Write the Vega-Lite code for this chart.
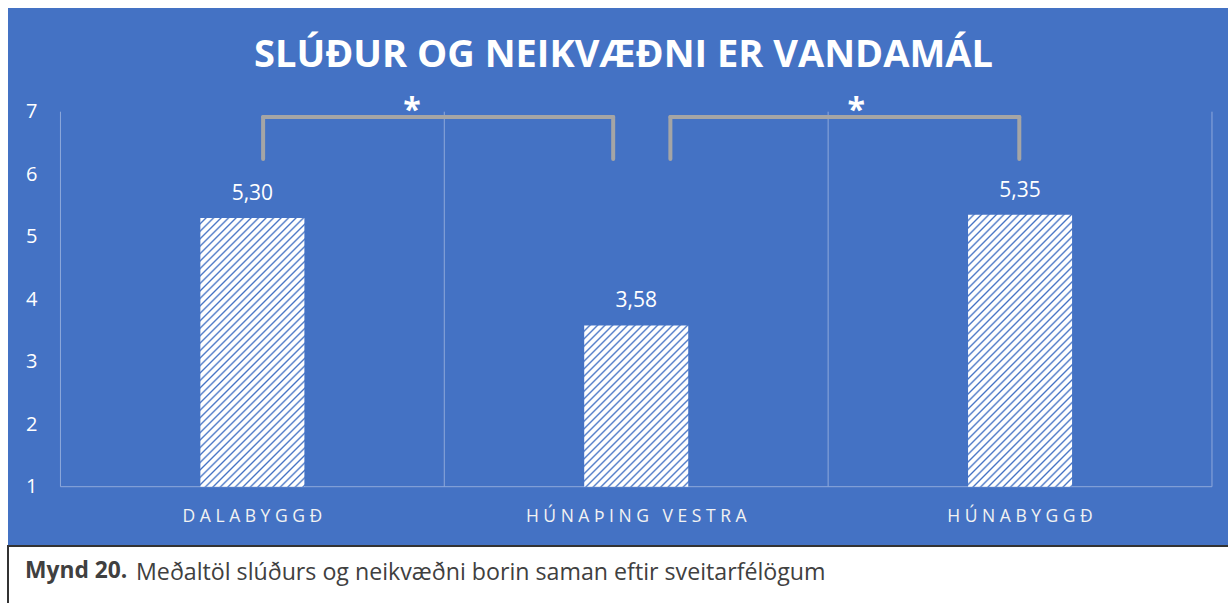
{
"$schema": "https://vega.github.io/schema/vega-lite/v6.json",
"background": "#ffffff",
"padding": {"left": 7, "top": 8, "right": 0, "bottom": 0},
"spacing": 0,
"config": {
  "locale": {"number": {"decimal": ",", "thousands": ".", "grouping": [3], "currency": ["", ""]}},
  "view": {"stroke": null},
  "font": "Open Sans"
},
"title": {"text": "Meðaltöl slúðurs og neikvæðni borin saman eftir sveitarfélögum", "orient": "bottom", "anchor": "start", "dx": 129, "offset": -27, "baseline": "alphabetic", "fontSize": 23.2, "fontWeight": "normal", "color": "#404040", "font": "Open Sans"},
"vconcat": [
{
  "width": 1221, "height": 537,
  "view": {"fill": "#4472c4", "stroke": null},
  "title": {"text": "SLÚÐUR OG NEIKVÆÐNI ER VANDAMÁL", "anchor": "middle", "dx": 5, "offset": -97, "baseline": "alphabetic", "fontSize": 38, "fontWeight": "bold", "color": "#ffffff", "font": "Open Sans"},
  "data": {"values": [{"region": "Dalabyggð", "value": 5.30}, {"region": "Húnaþing vestra", "value": 3.58}, {"region": "Húnabyggð", "value": 5.35}]},
  "layer": [
    {
      "mark": {"type": "rule", "color": "#8ea9db", "strokeWidth": 1},
      "encoding": {
        "x": {"field": "region", "type": "nominal", "bandPosition": 0,
              "scale": {"type": "band", "domain": ["Dalabyggð", "Húnaþing vestra", "Húnabyggð"], "paddingInner": 0, "paddingOuter": 0.0905, "align": 0.755},
              "axis": {"orient": "bottom", "offset": -24, "domain": false, "ticks": false, "tickSize": 0, "labelPadding": 0, "labelFontSize": 17.5, "labelFont": "Open Sans", "labelColor": "#f2f2f2", "labelBaseline": "alphabetic", "labelAngle": 0, "labelLimit": 0, "title": null, "grid": false, "labelExpr": "join(split(upper(datum.label), ''), '\u00a0')"}},
        "y": {"datum": 1, "type": "quantitative",
              "scale": {"domain": [0.067, 8.659], "nice": false, "zero": false},
              "axis": {"orient": "left", "offset": -29, "domain": false, "ticks": false, "tickSize": 0, "labelPadding": 0, "labelFontSize": 20, "labelFont": "Open Sans", "labelColor": "#ffffff", "grid": false, "title": null, "values": [1, 2, 3, 4, 5, 6, 7], "format": "d", "labelAlign": "right", "labelBaseline": "middle", "labelFlush": false}},
        "y2": {"datum": 7}
      }
    },
    {
      "data": {"values": [{}]},
      "mark": {"type": "rule", "color": "#8ea9db", "strokeWidth": 1},
      "encoding": {
        "x": {"datum": "Húnabyggð", "type": "nominal", "bandPosition": 1},
        "y": {"datum": 1, "type": "quantitative"},
        "y2": {"datum": 7}
      }
    },
    {
      "data": {"values": [{}]},
      "mark": {"type": "rule", "color": "#8ea9db", "strokeWidth": 1},
      "encoding": {
        "x": {"datum": "Dalabyggð", "type": "nominal", "bandPosition": 0},
        "x2": {"datum": "Húnabyggð", "bandPosition": 1},
        "y": {"datum": 1, "type": "quantitative"}
      }
    },
    {
      "mark": {"type": "bar", "width": {"band": 0.271}, "stroke": null},
      "encoding": {
        "x": {"field": "region", "type": "nominal"},
        "y": {"field": "value", "type": "quantitative"},
        "y2": {"datum": 1},
        "fill": {
          "condition": {"test": "datum.region === 'Húnaþing vestra'", "value": {"gradient": "linear", "x1": 0, "y1": 0, "x2": 1.0593, "y2": 1.6424, "stops": [
{"offset":0,"color":"#fff"},{"offset":0.01,"color":"#fff"},{"offset":0.015,"color":"#4472c4"},
{"offset":0.02,"color":"#fff"},{"offset":0.03,"color":"#fff"},{"offset":0.035,"color":"#4472c4"},
{"offset":0.04,"color":"#fff"},{"offset":0.05,"color":"#fff"},{"offset":0.055,"color":"#4472c4"},
{"offset":0.06,"color":"#fff"},{"offset":0.07,"color":"#fff"},{"offset":0.075,"color":"#4472c4"},
{"offset":0.08,"color":"#fff"},{"offset":0.09,"color":"#fff"},{"offset":0.095,"color":"#4472c4"},
{"offset":0.1,"color":"#fff"},{"offset":0.11,"color":"#fff"},{"offset":0.115,"color":"#4472c4"},
{"offset":0.12,"color":"#fff"},{"offset":0.13,"color":"#fff"},{"offset":0.135,"color":"#4472c4"},
{"offset":0.14,"color":"#fff"},{"offset":0.15,"color":"#fff"},{"offset":0.155,"color":"#4472c4"},
{"offset":0.16,"color":"#fff"},{"offset":0.17,"color":"#fff"},{"offset":0.175,"color":"#4472c4"},
{"offset":0.18,"color":"#fff"},{"offset":0.19,"color":"#fff"},{"offset":0.195,"color":"#4472c4"},
{"offset":0.2,"color":"#fff"},{"offset":0.21,"color":"#fff"},{"offset":0.215,"color":"#4472c4"},
{"offset":0.22,"color":"#fff"},{"offset":0.23,"color":"#fff"},{"offset":0.235,"color":"#4472c4"},
{"offset":0.24,"color":"#fff"},{"offset":0.25,"color":"#fff"},{"offset":0.255,"color":"#4472c4"},
{"offset":0.26,"color":"#fff"},{"offset":0.27,"color":"#fff"},{"offset":0.275,"color":"#4472c4"},
{"offset":0.28,"color":"#fff"},{"offset":0.29,"color":"#fff"},{"offset":0.295,"color":"#4472c4"},
{"offset":0.3,"color":"#fff"},{"offset":0.31,"color":"#fff"},{"offset":0.315,"color":"#4472c4"},
{"offset":0.32,"color":"#fff"},{"offset":0.33,"color":"#fff"},{"offset":0.335,"color":"#4472c4"},
{"offset":0.34,"color":"#fff"},{"offset":0.35,"color":"#fff"},{"offset":0.355,"color":"#4472c4"},
{"offset":0.36,"color":"#fff"},{"offset":0.37,"color":"#fff"},{"offset":0.375,"color":"#4472c4"},
{"offset":0.38,"color":"#fff"},{"offset":0.39,"color":"#fff"},{"offset":0.395,"color":"#4472c4"},
{"offset":0.4,"color":"#fff"},{"offset":0.41,"color":"#fff"},{"offset":0.415,"color":"#4472c4"},
{"offset":0.42,"color":"#fff"},{"offset":0.43,"color":"#fff"},{"offset":0.435,"color":"#4472c4"},
{"offset":0.44,"color":"#fff"},{"offset":0.45,"color":"#fff"},{"offset":0.455,"color":"#4472c4"},
{"offset":0.46,"color":"#fff"},{"offset":0.47,"color":"#fff"},{"offset":0.475,"color":"#4472c4"},
{"offset":0.48,"color":"#fff"},{"offset":0.49,"color":"#fff"},{"offset":0.495,"color":"#4472c4"},
{"offset":0.5,"color":"#fff"},{"offset":0.51,"color":"#fff"},{"offset":0.515,"color":"#4472c4"},
{"offset":0.52,"color":"#fff"},{"offset":0.53,"color":"#fff"},{"offset":0.535,"color":"#4472c4"},
{"offset":0.54,"color":"#fff"},{"offset":0.55,"color":"#fff"},{"offset":0.555,"color":"#4472c4"},
{"offset":0.56,"color":"#fff"},{"offset":0.57,"color":"#fff"},{"offset":0.575,"color":"#4472c4"},
{"offset":0.58,"color":"#fff"},{"offset":0.59,"color":"#fff"},{"offset":0.595,"color":"#4472c4"},
{"offset":0.6,"color":"#fff"},{"offset":0.61,"color":"#fff"},{"offset":0.615,"color":"#4472c4"},
{"offset":0.62,"color":"#fff"},{"offset":0.63,"color":"#fff"},{"offset":0.635,"color":"#4472c4"},
{"offset":0.64,"color":"#fff"},{"offset":0.65,"color":"#fff"},{"offset":0.655,"color":"#4472c4"},
{"offset":0.66,"color":"#fff"},{"offset":0.67,"color":"#fff"},{"offset":0.675,"color":"#4472c4"},
{"offset":0.68,"color":"#fff"},{"offset":0.69,"color":"#fff"},{"offset":0.695,"color":"#4472c4"},
{"offset":0.7,"color":"#fff"},{"offset":0.71,"color":"#fff"},{"offset":0.715,"color":"#4472c4"},
{"offset":0.72,"color":"#fff"},{"offset":0.73,"color":"#fff"},{"offset":0.735,"color":"#4472c4"},
{"offset":0.74,"color":"#fff"},{"offset":0.75,"color":"#fff"},{"offset":0.755,"color":"#4472c4"},
{"offset":0.76,"color":"#fff"},{"offset":0.77,"color":"#fff"},{"offset":0.775,"color":"#4472c4"},
{"offset":0.78,"color":"#fff"},{"offset":0.79,"color":"#fff"},{"offset":0.795,"color":"#4472c4"},
{"offset":0.8,"color":"#fff"},{"offset":0.81,"color":"#fff"},{"offset":0.815,"color":"#4472c4"},
{"offset":0.82,"color":"#fff"},{"offset":0.83,"color":"#fff"},{"offset":0.835,"color":"#4472c4"},
{"offset":0.84,"color":"#fff"},{"offset":0.85,"color":"#fff"},{"offset":0.855,"color":"#4472c4"},
{"offset":0.86,"color":"#fff"},{"offset":0.87,"color":"#fff"},{"offset":0.875,"color":"#4472c4"},
{"offset":0.88,"color":"#fff"},{"offset":0.89,"color":"#fff"},{"offset":0.895,"color":"#4472c4"},
{"offset":0.9,"color":"#fff"},{"offset":0.91,"color":"#fff"},{"offset":0.915,"color":"#4472c4"},
{"offset":0.92,"color":"#fff"},{"offset":0.93,"color":"#fff"},{"offset":0.935,"color":"#4472c4"},
{"offset":0.94,"color":"#fff"},{"offset":0.95,"color":"#fff"},{"offset":0.955,"color":"#4472c4"},
{"offset":0.96,"color":"#fff"},{"offset":0.97,"color":"#fff"},{"offset":0.975,"color":"#4472c4"},
{"offset":0.98,"color":"#fff"},{"offset":0.99,"color":"#fff"},{"offset":0.995,"color":"#4472c4"},
{"offset":1,"color":"#fff"}]}},
          "value": {"gradient": "linear", "x1": 0, "y1": 0, "x2": 0.465, "y2": 1.2085, "stops": [
{"offset":0,"color":"#fff"},{"offset":0.01,"color":"#fff"},{"offset":0.015,"color":"#4472c4"},
{"offset":0.02,"color":"#fff"},{"offset":0.03,"color":"#fff"},{"offset":0.035,"color":"#4472c4"},
{"offset":0.04,"color":"#fff"},{"offset":0.05,"color":"#fff"},{"offset":0.055,"color":"#4472c4"},
{"offset":0.06,"color":"#fff"},{"offset":0.07,"color":"#fff"},{"offset":0.075,"color":"#4472c4"},
{"offset":0.08,"color":"#fff"},{"offset":0.09,"color":"#fff"},{"offset":0.095,"color":"#4472c4"},
{"offset":0.1,"color":"#fff"},{"offset":0.11,"color":"#fff"},{"offset":0.115,"color":"#4472c4"},
{"offset":0.12,"color":"#fff"},{"offset":0.13,"color":"#fff"},{"offset":0.135,"color":"#4472c4"},
{"offset":0.14,"color":"#fff"},{"offset":0.15,"color":"#fff"},{"offset":0.155,"color":"#4472c4"},
{"offset":0.16,"color":"#fff"},{"offset":0.17,"color":"#fff"},{"offset":0.175,"color":"#4472c4"},
{"offset":0.18,"color":"#fff"},{"offset":0.19,"color":"#fff"},{"offset":0.195,"color":"#4472c4"},
{"offset":0.2,"color":"#fff"},{"offset":0.21,"color":"#fff"},{"offset":0.215,"color":"#4472c4"},
{"offset":0.22,"color":"#fff"},{"offset":0.23,"color":"#fff"},{"offset":0.235,"color":"#4472c4"},
{"offset":0.24,"color":"#fff"},{"offset":0.25,"color":"#fff"},{"offset":0.255,"color":"#4472c4"},
{"offset":0.26,"color":"#fff"},{"offset":0.27,"color":"#fff"},{"offset":0.275,"color":"#4472c4"},
{"offset":0.28,"color":"#fff"},{"offset":0.29,"color":"#fff"},{"offset":0.295,"color":"#4472c4"},
{"offset":0.3,"color":"#fff"},{"offset":0.31,"color":"#fff"},{"offset":0.315,"color":"#4472c4"},
{"offset":0.32,"color":"#fff"},{"offset":0.33,"color":"#fff"},{"offset":0.335,"color":"#4472c4"},
{"offset":0.34,"color":"#fff"},{"offset":0.35,"color":"#fff"},{"offset":0.355,"color":"#4472c4"},
{"offset":0.36,"color":"#fff"},{"offset":0.37,"color":"#fff"},{"offset":0.375,"color":"#4472c4"},
{"offset":0.38,"color":"#fff"},{"offset":0.39,"color":"#fff"},{"offset":0.395,"color":"#4472c4"},
{"offset":0.4,"color":"#fff"},{"offset":0.41,"color":"#fff"},{"offset":0.415,"color":"#4472c4"},
{"offset":0.42,"color":"#fff"},{"offset":0.43,"color":"#fff"},{"offset":0.435,"color":"#4472c4"},
{"offset":0.44,"color":"#fff"},{"offset":0.45,"color":"#fff"},{"offset":0.455,"color":"#4472c4"},
{"offset":0.46,"color":"#fff"},{"offset":0.47,"color":"#fff"},{"offset":0.475,"color":"#4472c4"},
{"offset":0.48,"color":"#fff"},{"offset":0.49,"color":"#fff"},{"offset":0.495,"color":"#4472c4"},
{"offset":0.5,"color":"#fff"},{"offset":0.51,"color":"#fff"},{"offset":0.515,"color":"#4472c4"},
{"offset":0.52,"color":"#fff"},{"offset":0.53,"color":"#fff"},{"offset":0.535,"color":"#4472c4"},
{"offset":0.54,"color":"#fff"},{"offset":0.55,"color":"#fff"},{"offset":0.555,"color":"#4472c4"},
{"offset":0.56,"color":"#fff"},{"offset":0.57,"color":"#fff"},{"offset":0.575,"color":"#4472c4"},
{"offset":0.58,"color":"#fff"},{"offset":0.59,"color":"#fff"},{"offset":0.595,"color":"#4472c4"},
{"offset":0.6,"color":"#fff"},{"offset":0.61,"color":"#fff"},{"offset":0.615,"color":"#4472c4"},
{"offset":0.62,"color":"#fff"},{"offset":0.63,"color":"#fff"},{"offset":0.635,"color":"#4472c4"},
{"offset":0.64,"color":"#fff"},{"offset":0.65,"color":"#fff"},{"offset":0.655,"color":"#4472c4"},
{"offset":0.66,"color":"#fff"},{"offset":0.67,"color":"#fff"},{"offset":0.675,"color":"#4472c4"},
{"offset":0.68,"color":"#fff"},{"offset":0.69,"color":"#fff"},{"offset":0.695,"color":"#4472c4"},
{"offset":0.7,"color":"#fff"},{"offset":0.71,"color":"#fff"},{"offset":0.715,"color":"#4472c4"},
{"offset":0.72,"color":"#fff"},{"offset":0.73,"color":"#fff"},{"offset":0.735,"color":"#4472c4"},
{"offset":0.74,"color":"#fff"},{"offset":0.75,"color":"#fff"},{"offset":0.755,"color":"#4472c4"},
{"offset":0.76,"color":"#fff"},{"offset":0.77,"color":"#fff"},{"offset":0.775,"color":"#4472c4"},
{"offset":0.78,"color":"#fff"},{"offset":0.79,"color":"#fff"},{"offset":0.795,"color":"#4472c4"},
{"offset":0.8,"color":"#fff"},{"offset":0.81,"color":"#fff"},{"offset":0.815,"color":"#4472c4"},
{"offset":0.82,"color":"#fff"},{"offset":0.83,"color":"#fff"},{"offset":0.835,"color":"#4472c4"},
{"offset":0.84,"color":"#fff"},{"offset":0.85,"color":"#fff"},{"offset":0.855,"color":"#4472c4"},
{"offset":0.86,"color":"#fff"},{"offset":0.87,"color":"#fff"},{"offset":0.875,"color":"#4472c4"},
{"offset":0.88,"color":"#fff"},{"offset":0.89,"color":"#fff"},{"offset":0.895,"color":"#4472c4"},
{"offset":0.9,"color":"#fff"},{"offset":0.91,"color":"#fff"},{"offset":0.915,"color":"#4472c4"},
{"offset":0.92,"color":"#fff"},{"offset":0.93,"color":"#fff"},{"offset":0.935,"color":"#4472c4"},
{"offset":0.94,"color":"#fff"},{"offset":0.95,"color":"#fff"},{"offset":0.955,"color":"#4472c4"},
{"offset":0.96,"color":"#fff"},{"offset":0.97,"color":"#fff"},{"offset":0.975,"color":"#4472c4"},
{"offset":0.98,"color":"#fff"},{"offset":0.99,"color":"#fff"},{"offset":0.995,"color":"#4472c4"},
{"offset":1,"color":"#fff"}]}
        }
      }
    },
    {
      "mark": {"type": "text", "dy": -18, "baseline": "alphabetic", "fontSize": 21, "color": "#ffffff", "font": "Open Sans"},
      "encoding": {
        "x": {"field": "region", "type": "nominal"},
        "y": {"field": "value", "type": "quantitative"},
        "text": {"field": "value", "type": "quantitative", "format": ".2f"}
      }
    },
    {
      "data": {"values": [{}]},
      "mark": {"type": "rule", "color": "#a5a5a5", "strokeWidth": 4, "strokeCap": "round"},
      "encoding": {"x": {"datum": "Dalabyggð", "type": "nominal", "bandPosition": 0.528}, "y": {"datum": 6.915, "type": "quantitative"}, "y2": {"datum": 6.243}}
    },
    {
      "data": {"values": [{}]},
      "mark": {"type": "rule", "color": "#a5a5a5", "strokeWidth": 4, "strokeCap": "round"},
      "encoding": {"x": {"datum": "Húnaþing vestra", "type": "nominal", "bandPosition": 0.44}, "y": {"datum": 6.915, "type": "quantitative"}, "y2": {"datum": 6.243}}
    },
    {
      "data": {"values": [{}]},
      "mark": {"type": "rule", "color": "#a5a5a5", "strokeWidth": 4, "strokeCap": "round"},
      "encoding": {"x": {"datum": "Dalabyggð", "type": "nominal", "bandPosition": 0.528}, "x2": {"datum": "Húnaþing vestra", "bandPosition": 0.44}, "y": {"datum": 6.915, "type": "quantitative"}}
    },
    {
      "data": {"values": [{}]},
      "mark": {"type": "rule", "color": "#a5a5a5", "strokeWidth": 4, "strokeCap": "round"},
      "encoding": {"x": {"datum": "Húnaþing vestra", "type": "nominal", "bandPosition": 0.589}, "y": {"datum": 6.915, "type": "quantitative"}, "y2": {"datum": 6.243}}
    },
    {
      "data": {"values": [{}]},
      "mark": {"type": "rule", "color": "#a5a5a5", "strokeWidth": 4, "strokeCap": "round"},
      "encoding": {"x": {"datum": "Húnabyggð", "type": "nominal", "bandPosition": 0.498}, "y": {"datum": 6.915, "type": "quantitative"}, "y2": {"datum": 6.243}}
    },
    {
      "data": {"values": [{}]},
      "mark": {"type": "rule", "color": "#a5a5a5", "strokeWidth": 4, "strokeCap": "round"},
      "encoding": {"x": {"datum": "Húnaþing vestra", "type": "nominal", "bandPosition": 0.589}, "x2": {"datum": "Húnabyggð", "bandPosition": 0.498}, "y": {"datum": 6.915, "type": "quantitative"}}
    },
    {
      "data": {"values": [{}]},
      "mark": {"type": "text", "baseline": "alphabetic", "fontSize": 32, "fontWeight": "bold", "color": "#ffffff", "font": "Open Sans"},
      "encoding": {"x": {"datum": "Dalabyggð", "type": "nominal", "bandPosition": 0.916}, "y": {"datum": 6.85, "type": "quantitative"}, "text": {"value": "*"}}
    },
    {
      "data": {"values": [{}]},
      "mark": {"type": "text", "baseline": "alphabetic", "fontSize": 32, "fontWeight": "bold", "color": "#ffffff", "font": "Open Sans"},
      "encoding": {"x": {"datum": "Húnabyggð", "type": "nominal", "bandPosition": 0.073}, "y": {"datum": 6.85, "type": "quantitative"}, "text": {"value": "*"}}
    }
  ]
},
{
  "width": 1221, "height": 60,
  "view": {"fill": "#ffffff", "stroke": "#333333", "strokeWidth": 2},
  "title": {"text": "Mynd 20.", "anchor": "start", "dx": 17, "offset": -55, "baseline": "alphabetic", "fontSize": 22.8, "fontWeight": "bold", "color": "#404040", "font": "Open Sans"},
  "data": {"values": [{}]},
  "mark": {"type": "point", "opacity": 0},
  "encoding": {}
}
]
}
